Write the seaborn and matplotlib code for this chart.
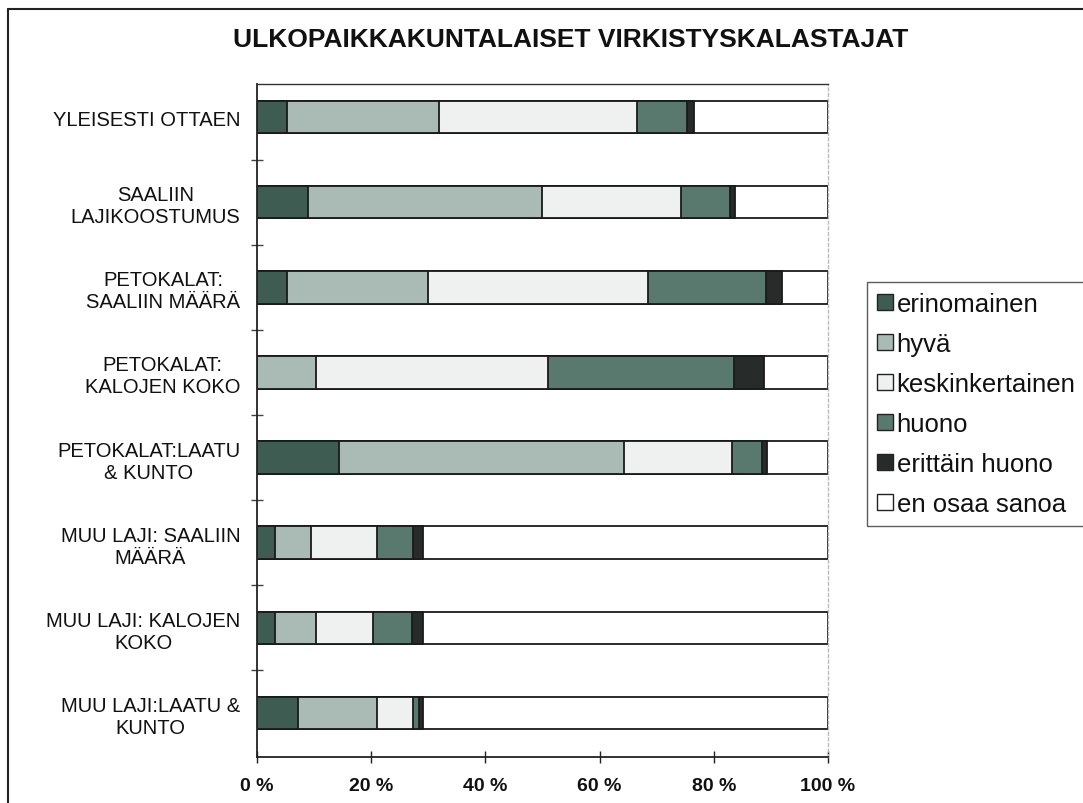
import matplotlib
matplotlib.use("Agg")
import matplotlib.pyplot as plt
from matplotlib.lines import Line2D
from matplotlib.patches import Patch
from matplotlib.ticker import FixedLocator
import numpy as np
import pandas as pd
import seaborn as sns

# Survey answers (%), one list per answer category
categories = [
    "YLEISESTI OTTAEN",
    "SAALIIN\nLAJIKOOSTUMUS",
    "PETOKALAT:\nSAALIIN MÄÄRÄ",
    "PETOKALAT:\nKALOJEN KOKO",
    "PETOKALAT:LAATU\n& KUNTO",
    "MUU LAJI: SAALIIN\nMÄÄRÄ",
    "MUU LAJI: KALOJEN\nKOKO",
    "MUU LAJI:LAATU &\nKUNTO",
]
erinomainen = [5.2, 9.0, 5.2, 0.0, 14.4, 3.1, 3.1, 7.2]
hyva = [26.6, 40.9, 24.7, 10.3, 49.8, 6.3, 7.2, 13.9]
keskinkertainen = [34.7, 24.4, 38.5, 40.6, 18.9, 11.7, 10.1, 6.2]
huono = [8.8, 8.6, 20.7, 32.6, 5.4, 6.2, 6.8, 1.0]
erittain_huono = [1.2, 0.9, 2.8, 5.3, 0.8, 1.8, 1.8, 0.8]
en_osaa_sanoa = [23.5, 16.2, 8.1, 11.2, 10.7, 70.9, 71.0, 70.9]

series_names = ["erinomainen", "hyvä", "keskinkertainen", "huono",
                "erittäin huono", "en osaa sanoa"]
series_values = [erinomainen, hyva, keskinkertainen, huono,
                 erittain_huono, en_osaa_sanoa]
series_colors = ["#3e5c52", "#a9bbb4", "#eef1ef", "#59796e", "#272c2a", "#ffffff"]
x_ticks = [0, 20, 40, 60, 80, 100]
x_tick_labels = ["0 %", "20 %", "40 %", "60 %", "80 %", "100 %"]

sns.set_theme(style="white")
plt.rcParams["font.family"] = ["Liberation Sans", "DejaVu Sans"]

fig = plt.figure(figsize=(10.83, 8.04), dpi=100)
ax = fig.add_axes([257 / 1083, 1 - 758 / 804, (828 - 257) / 1083, (758 - 85) / 804])

# Stacked bars: draw cumulative totals from the outermost segment inwards
df = pd.DataFrame({name: vals for name, vals in zip(series_names, series_values)})
df["kategoria"] = categories
cum = df[series_names].cumsum(axis=1)
for name, color in reversed(list(zip(series_names, series_colors))):
    sns.barplot(x=cum[name], y=df["kategoria"], orient="h", color=color,
                width=0.38, edgecolor="#1a1a1a", linewidth=1.3,
                saturation=1, ax=ax)

ax.set_xlim(0, 100)
ax.set_ylim(7.52, -0.39)
ax.set_xlabel("")
ax.set_ylabel("")
ax.set_xticks(x_ticks)
ax.set_xticklabels(x_tick_labels, fontsize=14, fontweight="bold", color="#111111")
ax.set_yticks(range(len(categories)))
ax.set_yticklabels(categories, fontsize=14.5, ha="right", multialignment="center",
                   color="#111111", linespacing=1.2)
ax.tick_params(axis="y", length=0, pad=12)
ax.tick_params(axis="x", direction="inout", length=9, width=1, color="#222222",
               bottom=True, pad=10)
ax.yaxis.set_minor_locator(FixedLocator(np.arange(0.5, 7.0, 1.0)))
ax.tick_params(axis="y", which="minor", direction="inout", length=9, width=1,
               color="#444444", left=True)

for side in ["left", "bottom"]:
    ax.spines[side].set_color("#222222")
    ax.spines[side].set_linewidth(1.3)
ax.spines["top"].set_color("#333333")
ax.spines["top"].set_linewidth(1.0)
ax.spines["right"].set_color("#bbbbbb")
ax.spines["right"].set_linewidth(1.0)
ax.spines["right"].set_linestyle((0, (2, 2)))

fig.text(571 / 1083, 1 - 40 / 804, "ULKOPAIKKAKUNTALAISET VIRKISTYSKALASTAJAT",
         ha="center", va="center", fontsize=19, fontweight="bold",
         color="#111111")

handles = [Patch(facecolor=c, edgecolor="#222222", linewidth=1.0)
           for c in series_colors]
leg = fig.legend(handles, series_names, loc="upper left",
                 bbox_to_anchor=(867 / 1083, 1 - 283 / 804), fontsize=18.5,
                 frameon=True, fancybox=False, edgecolor="#333333",
                 handlelength=0.6, handleheight=0.6, handletextpad=0.15,
                 labelspacing=0.62, borderpad=0.4, borderaxespad=0)
leg.get_frame().set_linewidth(1.0)
for t in leg.get_texts():
    t.set_color("#111111")

# Outer frame of the figure
fig.add_artist(Line2D([8 / 1083, 8 / 1083], [0, 1 - 10 / 804],
                      transform=fig.transFigure, color="#222222", lw=1.5))
fig.add_artist(Line2D([8 / 1083, 1], [1 - 10 / 804, 1 - 10 / 804],
                      transform=fig.transFigure, color="#222222", lw=1.5))

fig.savefig("out.png", dpi=100)
